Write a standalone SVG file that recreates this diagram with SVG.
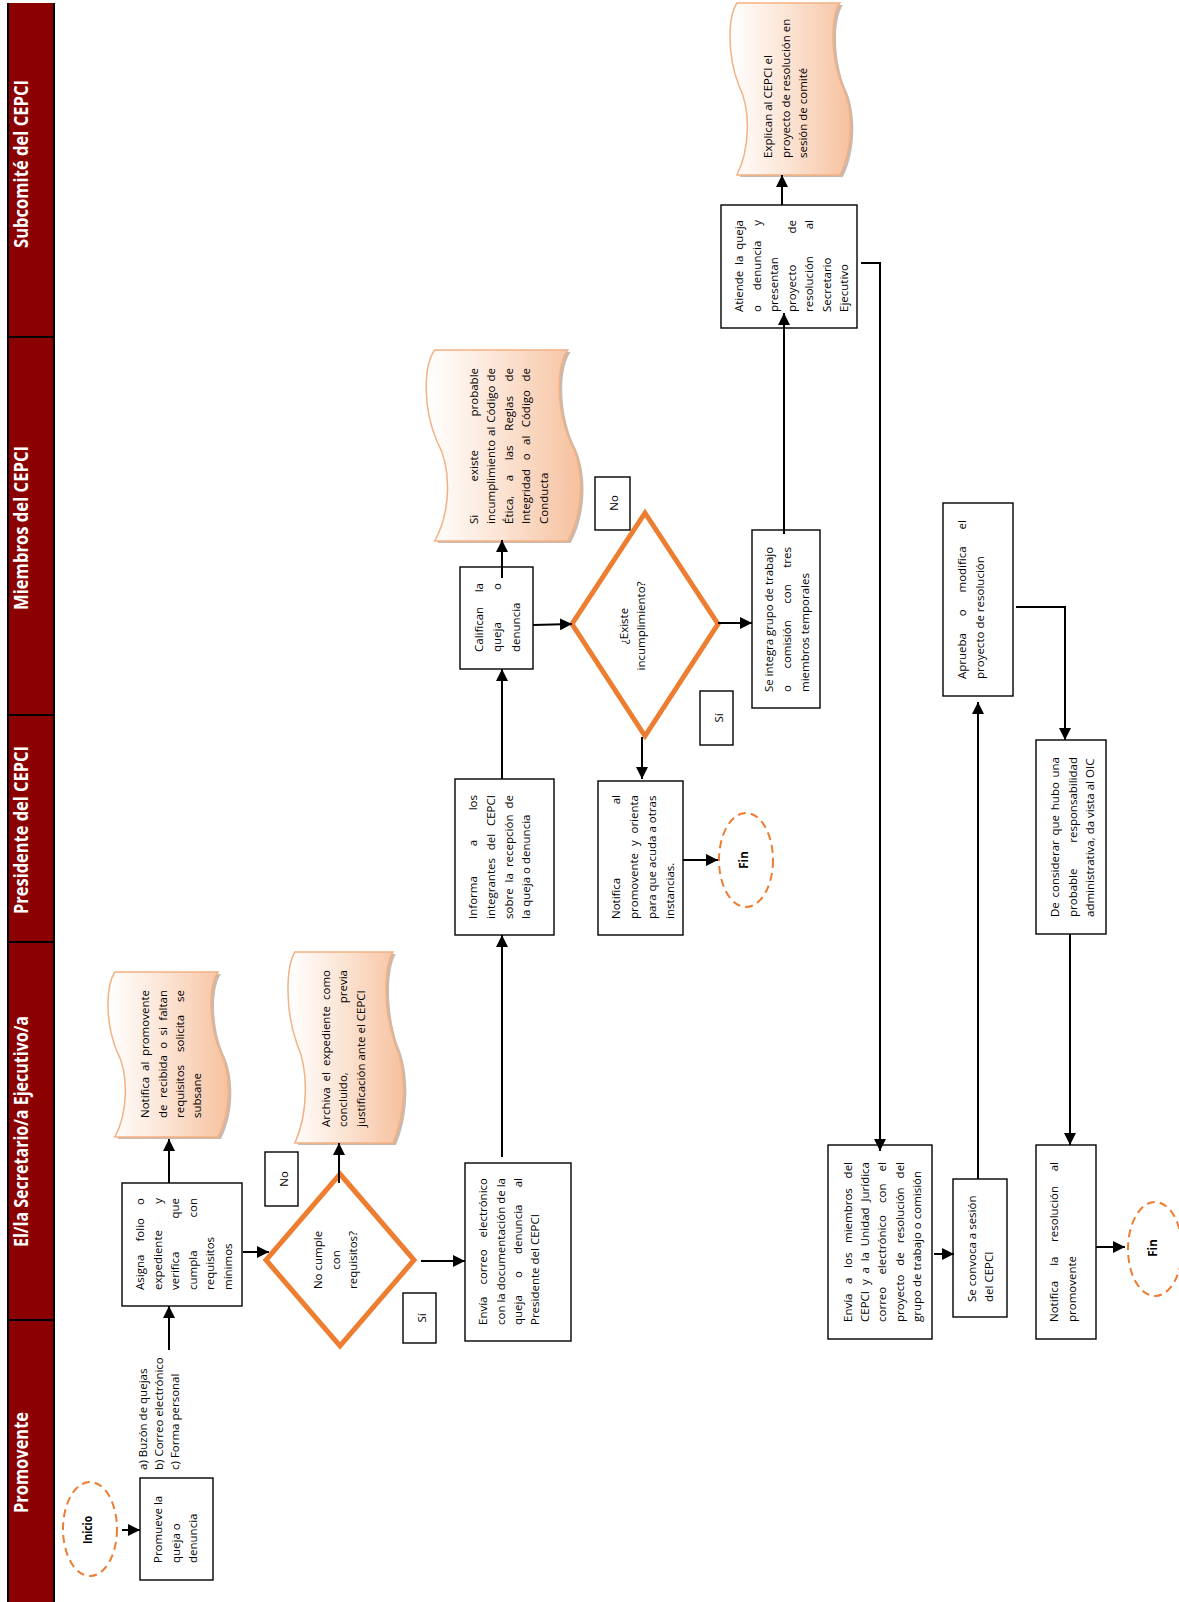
<svg xmlns="http://www.w3.org/2000/svg" width="1179" height="1602" viewBox="0 0 1179 1602">
<defs>
<linearGradient id="docg" x1="0" y1="0" x2="1" y2="0">
<stop offset="0" stop-color="#ffffff"/>
<stop offset="0.45" stop-color="#fce6d7"/>
<stop offset="1" stop-color="#f6c19f"/>
</linearGradient>
<marker id="ah" viewBox="0 0 10 10" refX="10" refY="5" markerWidth="6" markerHeight="6" orient="auto" markerUnits="strokeWidth">
<path d="M0,0 L10,5 L0,10 Z" fill="#000"/>
</marker>
</defs>
<style>
.lane{fill:#8B0000}
.ln{stroke:#000;stroke-width:2;fill:none}
.ht{font-family:"Open Sans","DejaVu Sans",sans-serif;font-weight:bold;font-size:19px;fill:#fff;text-anchor:middle}
.box{fill:#fff;stroke:#000;stroke-width:1.4}
.dia{fill:#fff;stroke:#ED7D31;stroke-width:5}
.term{fill:#fff;stroke:#ED7D31;stroke-width:2;stroke-dasharray:8 5}
.doc{fill:url(#docg);stroke:#F4B183;stroke-width:1.5}
.sh{fill:#a58a78;opacity:.6}
.t{font-family:"Open Sans","Liberation Sans",sans-serif;font-size:11.5px;fill:#000}
.e{text-anchor:end}
.m{text-anchor:middle}
.b{font-weight:bold}
.c{fill:none;stroke:#000;stroke-width:2;marker-end:url(#ah)}
</style>
<rect width="1179" height="1602" fill="#fff"/>

<g id="lanes">
<rect class="lane" x="7" y="3" width="47" height="1599"/>
<line class="ln" x1="8" y1="3" x2="8" y2="1602"/>
<line class="ln" x1="54" y1="3" x2="54" y2="1602"/>
<line class="ln" x1="7" y1="337" x2="55" y2="337"/>
<line class="ln" x1="7" y1="715" x2="55" y2="715"/>
<line class="ln" x1="7" y1="942" x2="55" y2="942"/>
<line class="ln" x1="7" y1="1320" x2="55" y2="1320"/>
<g transform="rotate(-90)">
<text class="ht" x="-164" y="28" textLength="168" lengthAdjust="spacingAndGlyphs">Subcomité del CEPCI</text>
<text class="ht" x="-528" y="28" textLength="164" lengthAdjust="spacingAndGlyphs">Miembros del CEPCI</text>
<text class="ht" x="-830" y="28" textLength="168" lengthAdjust="spacingAndGlyphs">Presidente del CEPCI</text>
<text class="ht" x="-1131.5" y="28" textLength="231" lengthAdjust="spacingAndGlyphs">El/la Secretario/a Ejecutivo/a</text>
<text class="ht" x="-1462.5" y="28" textLength="101" lengthAdjust="spacingAndGlyphs">Promovente</text>
</g>
</g>

<g id="n-inicio">
<ellipse class="term" cx="90" cy="1529" rx="27" ry="47"/>
<g transform="rotate(-90)"><text class="t b m" x="-1530" y="92" font-size="13" textLength="28" lengthAdjust="spacingAndGlyphs">Inicio</text></g>
</g>

<g id="n-promueve">
<rect class="box" x="140" y="1478" width="73" height="102"/>
<g transform="rotate(-90)">
<text class="t" x="-1563" y="162">Promueve la</text>
<text class="t" x="-1563" y="180">queja o</text>
<text class="t" x="-1563" y="197">denuncia</text>
</g>
</g>

<g id="label-medios">
<g transform="rotate(-90)">
<text class="t" font-size="12" x="-1470" y="147">a) Buzón de quejas</text>
<text class="t" font-size="12" x="-1470" y="163">b) Correo electrónico</text>
<text class="t" font-size="12" x="-1470" y="179">c) Forma personal</text>
</g>
</g>

<g id="n-asigna">
<rect class="box" x="122" y="1183" width="120" height="123"/>
<g transform="rotate(-90)">
<text class="t" x="-1290" y="144">Asigna</text><text class="t" x="-1241.5" y="144">folio</text><text class="t e" x="-1198" y="144">o</text>
<text class="t" x="-1290" y="161.5">expediente</text><text class="t e" x="-1198" y="161.5">y</text>
<text class="t" x="-1290" y="179">verifica</text><text class="t e" x="-1198" y="179">que</text>
<text class="t" x="-1290" y="196.5">cumpla</text><text class="t e" x="-1198" y="196.5">con</text>
<text class="t" x="-1290" y="214">requisitos</text>
<text class="t" x="-1290" y="231.5">mínimos</text>
</g>
</g>

<g id="n-notifica-recibida">
<g transform="translate(107,972)">
<path class="sh" transform="translate(3,2)" d="M7.9,0 L110.9,0 C101.9,13.2 100.8,49.5 112.9,79.2 C125,102.3 123.9,140.3 110.9,165 L7.9,165 C20.9,140.3 22,102.3 9.9,79.2 C-2.2,49.5 -1.1,13.2 7.9,0 Z"/>
<path class="doc" d="M7.9,0 L110.9,0 C101.9,13.2 100.8,49.5 112.9,79.2 C125,102.3 123.9,140.3 110.9,165 L7.9,165 C20.9,140.3 22,102.3 9.9,79.2 C-2.2,49.5 -1.1,13.2 7.9,0 Z"/>
</g>
<g transform="rotate(-90)">
<text class="t" x="-1118" y="149">Notifica</text><text class="t" x="-1071" y="149">al</text><text class="t e" x="-990" y="149">promovente</text>
<text class="t" x="-1118" y="167">de</text><text class="t" x="-1098.1" y="167">recibida</text><text class="t" x="-1048.8" y="167">o</text><text class="t" x="-1035.5" y="167">si</text><text class="t e" x="-990" y="167">faltan</text>
<text class="t" x="-1118" y="184">requisitos</text><text class="t" x="-1052" y="184">solicita</text><text class="t e" x="-990" y="184">se</text>
<text class="t" x="-1118" y="201">subsane</text>
</g>
</g>

<g id="n-dec-requisitos">
<polygon class="dia" points="340,1174 414,1260 340,1346 266,1260"/>
<g transform="rotate(-90)">
<text class="t m" x="-1260" y="322">No cumple</text>
<text class="t m" x="-1260" y="339.5">con</text>
<text class="t m" x="-1260" y="357">requisitos?</text>
</g>
</g>

<g id="lbl-no1">
<rect class="box" x="265" y="1152" width="33" height="54"/>
<g transform="rotate(-90)"><text class="t m" font-size="12" x="-1179" y="288">No</text></g>
</g>

<g id="n-archiva">
<g transform="translate(287,952)">
<path class="sh" transform="translate(3,2)" d="M7.9,0 L105.9,0 C96.9,15.3 95.8,57.3 107.9,91.7 C120,118.4 118.9,162.4 105.9,191 L7.9,191 C20.9,162.4 22,118.4 9.9,91.7 C-2.2,57.3 -1.1,15.3 7.9,0 Z"/>
<path class="doc" d="M7.9,0 L105.9,0 C96.9,15.3 95.8,57.3 107.9,91.7 C120,118.4 118.9,162.4 105.9,191 L7.9,191 C20.9,162.4 22,118.4 9.9,91.7 C-2.2,57.3 -1.1,15.3 7.9,0 Z"/>
</g>
<g transform="rotate(-90)">
<text class="t" x="-1127" y="330">Archiva</text><text class="t" x="-1081.4" y="330">el</text><text class="t" x="-1066" y="330">expediente</text><text class="t e" x="-970" y="330">como</text>
<text class="t" x="-1127" y="347">concluido,</text><text class="t e" x="-970" y="347">previa</text>
<text class="t" x="-1127" y="365">justificación ante el CEPCI</text>
</g>
</g>

<g id="lbl-si1">
<rect class="box" x="403" y="1293" width="33" height="50"/>
<g transform="rotate(-90)"><text class="t m" font-size="12" x="-1318" y="426">Sí</text></g>
</g>

<g id="n-envia-correo">
<rect class="box" x="465" y="1163" width="106" height="178"/>
<g transform="rotate(-90)">
<text class="t" x="-1325" y="487">Envía</text><text class="t" x="-1284.6" y="487">correo</text><text class="t e" x="-1178" y="487">electrónico</text>
<text class="t" x="-1325" y="505">con</text><text class="t" x="-1302.6" y="505">la</text><text class="t" x="-1290.3" y="505">documentación</text><text class="t" x="-1203.8" y="505">de</text><text class="t e" x="-1178" y="505">la</text>
<text class="t" x="-1325" y="522">queja</text><text class="t" x="-1278" y="522">o</text><text class="t" x="-1254" y="522">denuncia</text><text class="t e" x="-1178" y="522">al</text>
<text class="t" x="-1325" y="539">Presidente del CEPCI</text>
</g>
</g>

<g id="n-informa">
<rect class="box" x="455" y="779" width="99" height="156"/>
<g transform="rotate(-90)">
<text class="t" x="-919" y="477">Informa</text><text class="t" x="-846.3" y="477">a</text><text class="t e" x="-795" y="477">los</text>
<text class="t" x="-919" y="495">integrantes</text><text class="t" x="-850.3" y="495">del</text><text class="t e" x="-795" y="495">CEPCI</text>
<text class="t" x="-919" y="513">sobre</text><text class="t" x="-882.4" y="513">la</text><text class="t" x="-867.1" y="513">recepción</text><text class="t e" x="-795" y="513">de</text>
<text class="t" x="-919" y="530">la queja o denuncia</text>
</g>
</g>

<g id="n-califican">
<rect class="box" x="460" y="567" width="73" height="102"/>
<g transform="rotate(-90)">
<text class="t" x="-652" y="483">Califican</text><text class="t e" x="-583" y="483">la</text>
<text class="t" x="-652" y="501">queja</text><text class="t e" x="-583" y="501">o</text>
<text class="t" x="-652" y="520">denuncia</text>
</g>
</g>

<g id="n-si-existe">
<g transform="translate(425,350)">
<path class="sh" transform="translate(3,2)" d="M9.7,0 L142.7,0 C131.65,15.3 130.3,57.3 145.15,91.7 C160,118.4 158.65,162.4 142.7,191 L9.7,191 C25.65,162.4 27,118.4 12.15,91.7 C-2.7,57.3 -1.35,15.3 9.7,0 Z"/>
<path class="doc" d="M9.7,0 L142.7,0 C131.65,15.3 130.3,57.3 145.15,91.7 C160,118.4 158.65,162.4 142.7,191 L9.7,191 C25.65,162.4 27,118.4 12.15,91.7 C-2.7,57.3 -1.35,15.3 9.7,0 Z"/>
</g>
<g transform="rotate(-90)">
<text class="t" x="-524" y="478">Si</text><text class="t" x="-481.4" y="478">existe</text><text class="t e" x="-368" y="478">probable</text>
<text class="t" x="-524" y="495">incumplimiento</text><text class="t" x="-435.9" y="495">al</text><text class="t" x="-422.8" y="495">Código</text><text class="t e" x="-368" y="495">de</text>
<text class="t" x="-524" y="513">Ética,</text><text class="t" x="-481.3" y="513">a</text><text class="t" x="-460.2" y="513">las</text><text class="t" x="-430.7" y="513">Reglas</text><text class="t e" x="-368" y="513">de</text>
<text class="t" x="-524" y="530">Integridad</text><text class="t" x="-460.3" y="530">o</text><text class="t" x="-445" y="530">al</text><text class="t" x="-427.3" y="530">Código</text><text class="t e" x="-368" y="530">de</text>
<text class="t" x="-524" y="548">Conducta</text>
</g>
</g>

<g id="lbl-no2">
<rect class="box" x="595" y="477" width="35" height="53"/>
<g transform="rotate(-90)"><text class="t m" font-size="12" x="-503" y="618">No</text></g>
</g>

<g id="n-dec-incumplimiento">
<polygon class="dia" points="645,513 718,624 645,736 572,624"/>
<g transform="rotate(-90)">
<text class="t m" x="-626" y="628">¿Existe</text>
<text class="t m" x="-626" y="645">incumplimiento?</text>
</g>
</g>

<g id="lbl-si2">
<rect class="box" x="700" y="691" width="33" height="54"/>
<g transform="rotate(-90)"><text class="t m" font-size="12" x="-718" y="723">Sí</text></g>
</g>

<g id="n-notifica-orienta">
<rect class="box" x="598" y="781" width="85" height="154"/>
<g transform="rotate(-90)">
<text class="t" x="-919" y="620">Notifica</text><text class="t e" x="-795" y="620">al</text>
<text class="t" x="-919" y="638">promovente</text><text class="t" x="-846.1" y="638">y</text><text class="t e" x="-795" y="638">orienta</text>
<text class="t" x="-919" y="656">para que acuda a otras</text>
<text class="t" x="-919" y="674">instancias.</text>
</g>
</g>

<g id="n-fin1">
<ellipse class="term" cx="746" cy="860" rx="27" ry="47"/>
<g transform="rotate(-90)"><text class="t b m" font-size="12.5" x="-860" y="748">Fin</text></g>
</g>

<g id="n-se-integra">
<rect class="box" x="752" y="530" width="68" height="178"/>
<g transform="rotate(-90)">
<text class="t" x="-692" y="773" textLength="145" lengthAdjust="spacingAndGlyphs">Se integra grupo de trabajo</text>
<text class="t" x="-692" y="791">o</text><text class="t" x="-668.6" y="791">comisión</text><text class="t" x="-603.7" y="791">con</text><text class="t e" x="-547" y="791">tres</text>
<text class="t" x="-692" y="809">miembros temporales</text>
</g>
</g>

<g id="n-atiende">
<rect class="box" x="721" y="205" width="136" height="123"/>
<g transform="rotate(-90)">
<text class="t" x="-312" y="743">Atiende</text><text class="t" x="-265" y="743">la</text><text class="t e" x="-220" y="743">queja</text>
<text class="t" x="-312" y="760.5">o</text><text class="t" x="-290.2" y="760.5">denuncia</text><text class="t e" x="-220" y="760.5">y</text>
<text class="t" x="-312" y="778">presentan</text>
<text class="t" x="-312" y="795.5">proyecto</text><text class="t e" x="-220" y="795.5">de</text>
<text class="t" x="-312" y="813">resolución</text><text class="t e" x="-220" y="813">al</text>
<text class="t" x="-312" y="830.5">Secretario</text>
<text class="t" x="-312" y="848">Ejecutivo</text>
</g>
</g>

<g id="n-explican">
<g transform="translate(729,3)">
<path class="sh" transform="translate(3,2)" d="M7.9,0 L110.9,0 C101.9,13.8 100.8,51.6 112.9,82.6 C125,106.6 123.9,146.2 110.9,172 L7.9,172 C20.9,146.2 22,106.6 9.9,82.6 C-2.2,51.6 -1.1,13.8 7.9,0 Z"/>
<path class="doc" d="M7.9,0 L110.9,0 C101.9,13.8 100.8,51.6 112.9,82.6 C125,106.6 123.9,146.2 110.9,172 L7.9,172 C20.9,146.2 22,106.6 9.9,82.6 C-2.2,51.6 -1.1,13.8 7.9,0 Z"/>
</g>
<g transform="rotate(-90)">
<text class="t" x="-158" y="772">Explican al CEPCI el</text>
<text class="t" x="-158" y="790">proyecto de resolución en</text>
<text class="t" x="-158" y="807">sesión de comité</text>
</g>
</g>

<g id="n-envia-miembros">
<rect class="box" x="828" y="1145" width="104" height="194"/>
<g transform="rotate(-90)">
<text class="t" x="-1322" y="852">Envía</text><text class="t" x="-1284" y="852">a</text><text class="t" x="-1267.9" y="852">los</text><text class="t" x="-1243" y="852">miembros</text><text class="t e" x="-1162" y="852">del</text>
<text class="t" x="-1322" y="869">CEPCI</text><text class="t" x="-1285.1" y="869">y</text><text class="t" x="-1273.5" y="869">a</text><text class="t" x="-1261.3" y="869">la</text><text class="t" x="-1246.2" y="869">Unidad</text><text class="t e" x="-1162" y="869">Jurídica</text>
<text class="t" x="-1322" y="886">correo</text><text class="t" x="-1274.6" y="886">electrónico</text><text class="t" x="-1203" y="886">con</text><text class="t e" x="-1162" y="886">el</text>
<text class="t" x="-1322" y="904">proyecto</text><text class="t" x="-1265.7" y="904">de</text><text class="t" x="-1243.3" y="904">resolución</text><text class="t e" x="-1162" y="904">del</text>
<text class="t" x="-1322" y="921">grupo de trabajo o comisión</text>
</g>
</g>

<g id="n-se-convoca">
<rect class="box" x="953" y="1179" width="54" height="138"/>
<g transform="rotate(-90)">
<text class="t" x="-1302" y="976">Se convoca a sesión</text>
<text class="t" x="-1302" y="993">del CEPCI</text>
</g>
</g>

<g id="n-aprueba">
<rect class="box" x="943" y="503" width="70" height="193"/>
<g transform="rotate(-90)">
<text class="t" x="-679" y="966">Aprueba</text><text class="t" x="-616.2" y="966">o</text><text class="t" x="-592.5" y="966">modifica</text><text class="t e" x="-520" y="966">el</text>
<text class="t" x="-679" y="984">proyecto de resolución</text>
</g>
</g>

<g id="n-de-considerar">
<rect class="box" x="1036" y="740" width="70" height="194"/>
<g transform="rotate(-90)">
<text class="t" x="-917" y="1059">De</text><text class="t" x="-897.4" y="1059">considerar</text><text class="t" x="-835.5" y="1059">que</text><text class="t" x="-810.2" y="1059">hubo</text><text class="t e" x="-757" y="1059">una</text>
<text class="t" x="-917" y="1077">probable</text><text class="t e" x="-757" y="1077">responsabilidad</text>
<text class="t" x="-917" y="1094">administrativa, da vista al OIC</text>
</g>
</g>

<g id="n-notifica-resolucion">
<rect class="box" x="1036" y="1145" width="60" height="194"/>
<g transform="rotate(-90)">
<text class="t" x="-1322" y="1058">Notifica</text><text class="t" x="-1265.8" y="1058">la</text><text class="t" x="-1241.9" y="1058">resolución</text><text class="t e" x="-1162" y="1058">al</text>
<text class="t" x="-1322" y="1076">promovente</text>
</g>
</g>

<g id="n-fin2">
<ellipse class="term" cx="1155" cy="1249" rx="27" ry="47"/>
<g transform="rotate(-90)"><text class="t b m" font-size="12.5" x="-1248" y="1157">Fin</text></g>
</g>

<g id="connectors">
<path class="c" d="M122,1530 H140"/>
<path class="c" d="M169,1350 V1306"/>
<path class="c" d="M169,1183 V1139"/>
<path class="c" d="M243,1252 H269"/>
<path class="c" d="M339,1183 V1143"/>
<path class="c" d="M421,1261 H465"/>
<path class="c" d="M502,1157 V935"/>
<path class="c" d="M502,779 V669"/>
<path class="c" d="M502,578 V540"/>
<path class="c" d="M533,625 L572,624"/>
<path class="c" d="M642,737 V779"/>
<path class="c" d="M683,860 H718"/>
<path class="c" d="M718,623 H752"/>
<path class="c" d="M784,534 V313"/>
<path class="c" d="M782,205 V175"/>
<path class="c" d="M861,263 H880 V1151"/>
<path class="c" d="M934,1254 H954"/>
<path class="c" d="M978,1179 V702"/>
<path class="c" d="M1016,607 H1065 V740"/>
<path class="c" d="M1070,934 V1145"/>
<path class="c" d="M1096,1247 H1125"/>
</g>
</svg>
